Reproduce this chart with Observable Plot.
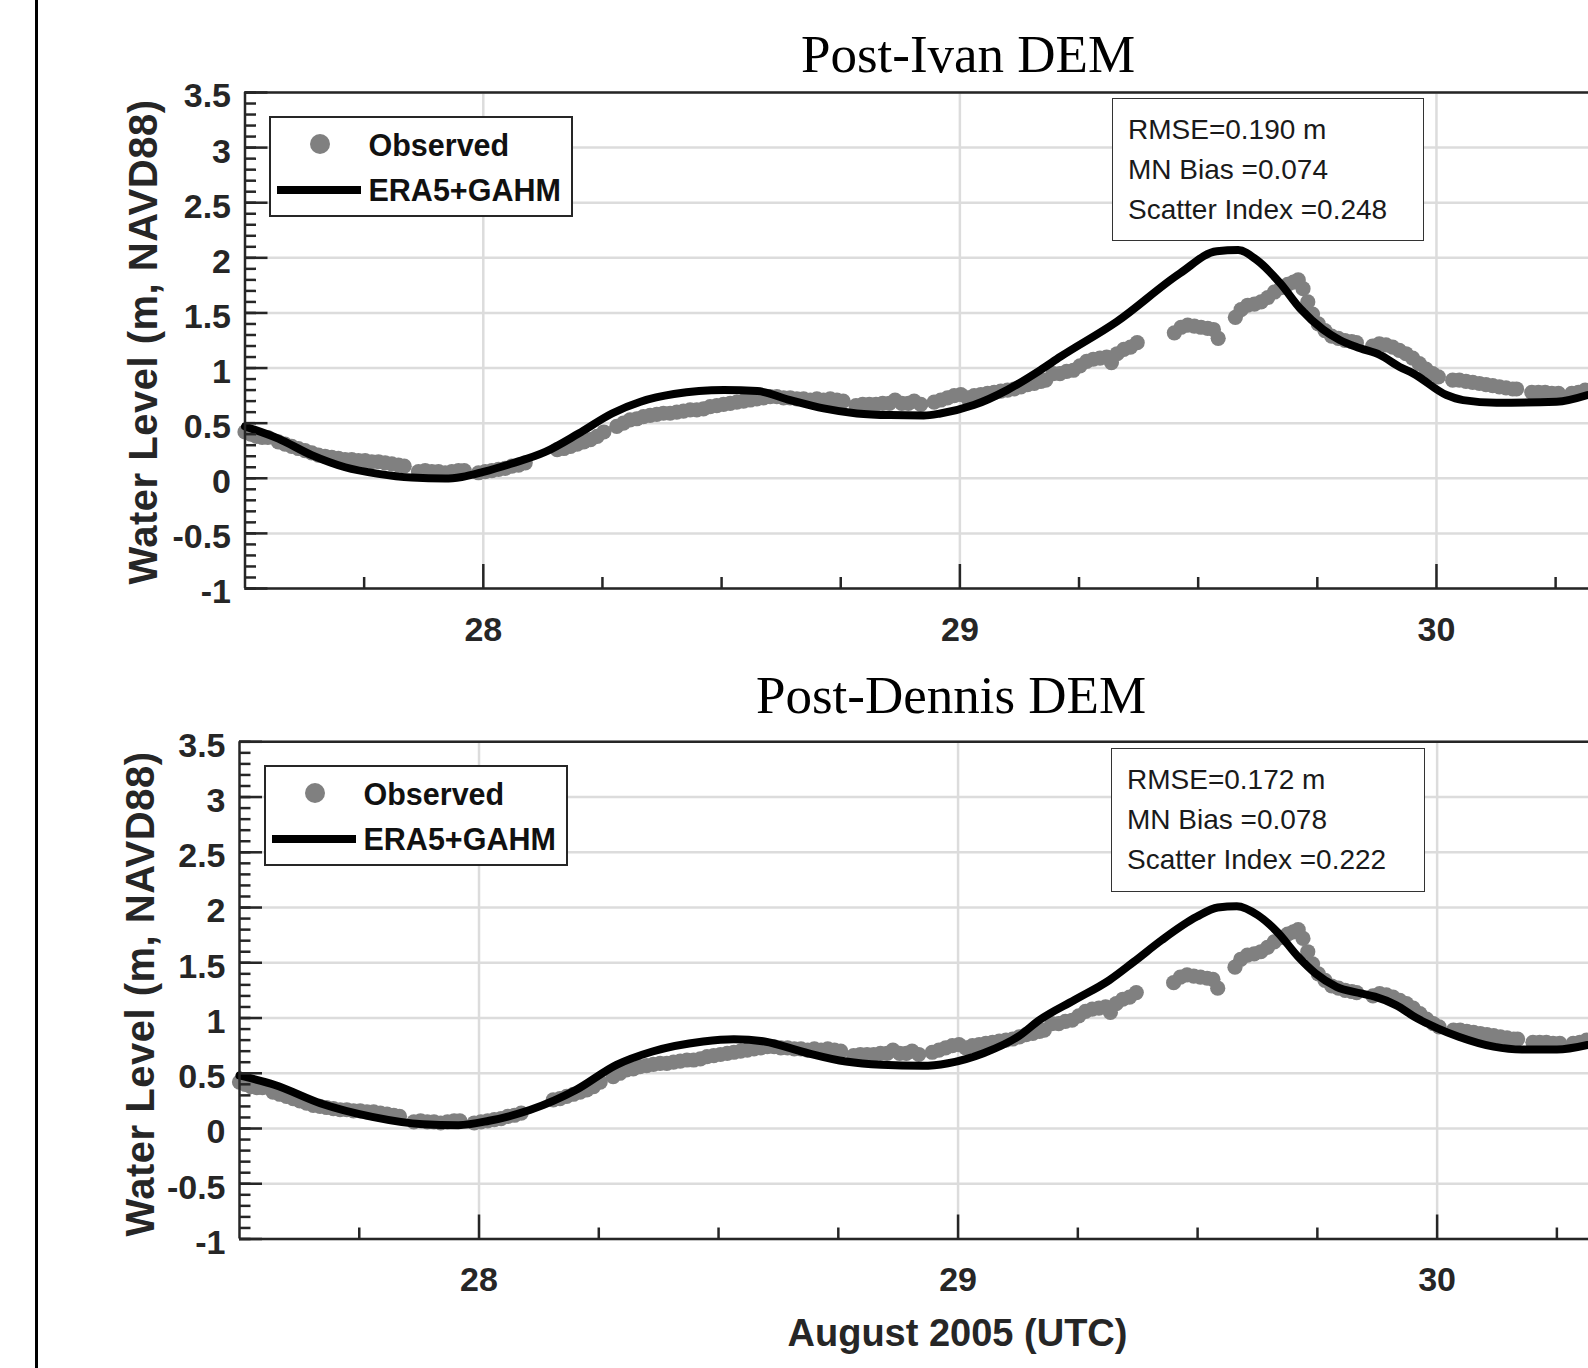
<!DOCTYPE html>
<html>
<head>
<meta charset="utf-8">
<script src="https://cdn.jsdelivr.net/npm/d3@7"></script>
<script src="https://cdn.jsdelivr.net/npm/@observablehq/plot@0.6"></script>
<style>
  body { margin: 0; background: #fff; }
  #fig { position: relative; width: 1588px; height: 1368px; overflow: hidden; background: #fff;
         font-family: "Liberation Sans", Arial, sans-serif; color: #262626; }
  #fig svg { position: absolute; left: 0; overflow: visible; }
  .frameline { position: absolute; left: 35px; top: 0; width: 3px; height: 1368px; background: #000; z-index: 5; }
  .title { position: absolute; font-family: "Liberation Serif", serif; font-size: 53px; color: #000;
           transform: translate(-50%, -50%); white-space: nowrap; z-index: 5; }
  .ylab { position: absolute; font-weight: bold; font-size: 40px; letter-spacing: 0.5px; white-space: nowrap;
          transform: translate(-50%, -50%) rotate(-90deg); z-index: 5; }
  .xlab { position: absolute; font-weight: bold; font-size: 38px; white-space: nowrap;
          transform: translate(-50%, -50%); z-index: 5; }
  .legend { position: absolute; box-sizing: border-box; border: 2px solid #262626; background: #fff; z-index: 5; }
  .legend .ldot { position: absolute; width: 20px; height: 20px; border-radius: 50%; background: #808080; }
  .legend .lline { position: absolute; height: 8px; background: #000; }
  .legend .ltext { position: absolute; font-weight: bold; font-size: 30.5px; line-height: 1; transform: translateY(-50%); white-space: nowrap; color: #111; }
  .stats { position: absolute; box-sizing: border-box; border: 1.5px solid #333; background: #fff; z-index: 5; }
  .stats div { position: absolute; left: 15px; font-size: 28px; line-height: 1; transform: translateY(-50%); white-space: nowrap; color: #1a1a1a; }
</style>
</head>
<body>
<div id="fig">
  <div class="frameline"></div>
</div>
<script>
// ---------------- data ----------------
// Observed water level (day of August 2005, m NAVD88) – same gauge in both panels
const observed = [
  [27.500,0.42],[27.512,0.40],[27.524,0.38],[27.536,0.37],[27.548,0.37],
  [27.570,0.33],[27.584,0.31],[27.598,0.29],[27.612,0.27],[27.626,0.25],[27.640,0.23],[27.654,0.21],
  [27.668,0.20],[27.682,0.19],[27.696,0.18],[27.710,0.17],[27.724,0.17],[27.738,0.16],[27.752,0.16],
  [27.766,0.15],[27.780,0.15],[27.794,0.14],[27.808,0.13],[27.822,0.12],[27.834,0.11],
  [27.864,0.06],[27.878,0.07],[27.892,0.06],[27.906,0.06],[27.920,0.05],[27.934,0.06],[27.948,0.07],[27.960,0.07],
  [27.990,0.05],[28.004,0.06],[28.018,0.07],[28.032,0.08],[28.046,0.09],[28.060,0.11],[28.074,0.12],[28.088,0.14],
  [28.155,0.26],[28.169,0.27],[28.183,0.29],[28.197,0.31],[28.211,0.33],[28.225,0.35],[28.239,0.38],[28.253,0.42],
  [28.280,0.47],[28.294,0.50],[28.308,0.53],[28.322,0.54],[28.336,0.56],[28.350,0.57],[28.364,0.58],[28.378,0.59],
  [28.392,0.59],[28.406,0.60],[28.420,0.61],[28.434,0.62],[28.448,0.62],[28.462,0.63],[28.476,0.65],[28.490,0.66],
  [28.504,0.67],[28.518,0.68],[28.532,0.69],[28.546,0.70],[28.560,0.71],[28.574,0.72],[28.588,0.73],[28.602,0.74],
  [28.616,0.74],[28.630,0.73],[28.644,0.73],[28.658,0.72],[28.672,0.72],[28.686,0.71],[28.700,0.72],[28.714,0.71],
  [28.728,0.72],[28.742,0.71],[28.755,0.70],
  [28.782,0.66],[28.796,0.67],[28.810,0.67],[28.824,0.67],[28.838,0.68],[28.852,0.68],[28.864,0.71],[28.878,0.68],
  [28.892,0.68],[28.904,0.70],[28.918,0.67],
  [28.946,0.69],[28.960,0.71],[28.974,0.73],[28.988,0.75],[29.002,0.76],[29.016,0.73],[29.030,0.75],[29.044,0.76],
  [29.058,0.77],[29.072,0.78],[29.086,0.79],[29.100,0.80],[29.114,0.81],[29.128,0.83],[29.142,0.85],[29.156,0.86],
  [29.170,0.88],[29.180,0.89],
  [29.196,0.95],[29.210,0.95],[29.224,0.97],[29.238,0.98],[29.252,1.02],[29.266,1.06],[29.280,1.08],[29.294,1.09],
  [29.308,1.10],[29.318,1.05],[29.330,1.13],[29.344,1.17],[29.358,1.19],[29.372,1.23],
  [29.450,1.32],[29.464,1.37],[29.478,1.39],[29.492,1.38],[29.506,1.37],[29.520,1.36],[29.532,1.35],[29.542,1.27],
  [29.578,1.46],[29.590,1.53],[29.604,1.57],[29.618,1.58],[29.632,1.60],[29.646,1.64],[29.660,1.69],[29.674,1.73],
  [29.688,1.76],[29.700,1.78],[29.710,1.80],[29.720,1.72],[29.730,1.60],[29.740,1.49],[29.752,1.40],[29.766,1.34],
  [29.780,1.29],[29.794,1.27],[29.808,1.25],[29.822,1.24],[29.832,1.23],
  [29.866,1.20],[29.880,1.22],[29.894,1.21],[29.908,1.19],[29.922,1.16],[29.936,1.13],[29.950,1.09],[29.964,1.04],
  [29.978,0.99],[29.992,0.95],[30.004,0.92],
  [30.034,0.89],[30.048,0.89],[30.062,0.88],[30.076,0.87],[30.090,0.86],[30.104,0.85],[30.118,0.84],[30.132,0.83],
  [30.146,0.82],[30.160,0.81],[30.168,0.81],
  [30.200,0.78],[30.214,0.78],[30.228,0.78],[30.242,0.77],[30.256,0.77],
  [30.284,0.77],[30.298,0.78],[30.312,0.80]
];

// ERA5+GAHM modelled water level, Post-Ivan DEM
const modelIvan = [
  [27.50,0.47],[27.57,0.36],[27.64,0.21],[27.71,0.10],[27.78,0.04],[27.85,0.006],[27.92,-0.003],[27.955,0.012],
  [28.00,0.058],[28.06,0.134],[28.13,0.239],[28.20,0.406],[28.27,0.588],[28.33,0.694],[28.40,0.764],[28.505,0.800],
  [28.575,0.791],[28.644,0.709],[28.714,0.634],[28.784,0.588],[28.854,0.573],[28.924,0.570],[28.959,0.588],
  [29.029,0.664],[29.099,0.800],[29.169,0.982],[29.211,1.103],[29.329,1.42],[29.462,1.86],[29.539,2.06],
  [29.584,2.07],[29.623,1.98],[29.672,1.77],[29.714,1.54],[29.762,1.35],[29.797,1.255],[29.840,1.18],
  [29.881,1.12],[29.923,1.01],[29.951,0.952],[30.021,0.755],[30.056,0.709],[30.126,0.685],[30.252,0.694],[30.317,0.755]
];

// ERA5+GAHM modelled water level, Post-Dennis DEM
const modelDennis = [
  [27.50,0.48],[27.574,0.394],[27.670,0.227],[27.777,0.106],[27.883,0.039],[27.957,0.030],[28.021,0.07],
  [28.106,0.167],[28.202,0.348],[28.287,0.576],[28.362,0.697],[28.468,0.788],[28.532,0.809],[28.596,0.788],
  [28.681,0.688],[28.766,0.606],[28.840,0.576],[28.926,0.567],[28.979,0.591],[29.053,0.682],[29.128,0.84],
  [29.170,0.982],[29.243,1.163],[29.316,1.343],[29.367,1.509],[29.425,1.705],[29.498,1.916],[29.542,2.00],
  [29.582,2.012],[29.626,1.93],[29.666,1.78],[29.710,1.554],[29.746,1.404],[29.790,1.283],[29.841,1.223],
  [29.870,1.193],[29.914,1.117],[29.958,0.997],[30.001,0.907],[30.045,0.831],[30.118,0.741],[30.177,0.715],
  [30.250,0.715],[30.314,0.756]
];

const panelTitles = ["Post-Ivan DEM", "Post-Dennis DEM"];
const statsIvan = ["RMSE=0.190 m", "MN Bias =0.074", "Scatter Index =0.248"];
const statsDennis = ["RMSE=0.172 m", "MN Bias =0.078", "Scatter Index =0.222"];
const legendLabels = ["Observed", "ERA5+GAHM"];
const yLabel = "Water Level (m, NAVD88)";
const xLabel = "August 2005 (UTC)";

const yMajor = [-1, -0.5, 0, 0.5, 1, 1.5, 2, 2.5, 3, 3.5];
const yMinor = d3.range(-10, 36).map(i => i / 10);
const xMajor = [28, 29, 30];
const xMinor = [27.75, 28.25, 28.5, 28.75, 29.25, 29.5, 29.75, 30.25];

// ---------------- drawing ----------------
const gridColor = "#dcdcdc";
const axisColor = "#262626";

function panel(model, o) {
  return Plot.plot({
    width: 1588,
    height: o.height,
    marginLeft: o.left, marginRight: 0, marginTop: o.top, marginBottom: o.bottom,
    x: {domain: [27.5, o.xmax], axis: null},
    y: {domain: [-1, 3.5], axis: null},
    style: {fontFamily: "Liberation Sans, Arial, sans-serif", fontSize: "34px", fontWeight: "bold",
            color: axisColor, background: "transparent", overflow: "visible"},
    marks: [
      Plot.ruleX(xMajor, {stroke: gridColor, strokeWidth: 2.5}),
      Plot.ruleY(yMajor, {stroke: gridColor, strokeWidth: 2.5}),
      Plot.dot(observed, {x: d => d[0], y: d => d[1], r: 7.6, fill: "#808080", stroke: "none"}),
      Plot.line(model, {x: d => d[0], y: d => d[1], stroke: "#000", strokeWidth: 8, curve: "monotone-x"}),
      Plot.ruleY([-1, 3.5], {stroke: axisColor, strokeWidth: 2.5}),
      Plot.ruleX([27.5], {stroke: axisColor, strokeWidth: 2.5}),
      Plot.axisY({ticks: yMinor, tickSize: -11.5, fill: "none", label: null, stroke: axisColor, strokeWidth: 2.5}),
      Plot.axisY({ticks: yMajor, tickSize: -23, fill: "none", label: null, stroke: axisColor, strokeWidth: 2.5}),
      Plot.axisY({ticks: yMajor, tickSize: 0, tickPadding: 14, dy: 4, tickFormat: d => String(d), label: null,
                  fontSize: 34, fontWeight: "bold", fill: axisColor}),
      Plot.axisX({ticks: xMinor, tickSize: -11, fill: "none", label: null, stroke: axisColor, strokeWidth: 2.5}),
      Plot.axisX({ticks: xMajor, tickSize: -24, fill: "none", label: null, stroke: axisColor, strokeWidth: 2.5}),
      Plot.axisX({ticks: xMajor, tickSize: 0, tickPadding: 28, tickFormat: d => String(d), label: null,
                  fontSize: 34, fontWeight: "bold", fill: axisColor})
    ]
  });
}

const fig = document.getElementById("fig");

const p1 = panel(modelIvan, {height: 660, left: 244.5, top: 92, bottom: 72, xmax: 30.319});
p1.style.top = "0px";
fig.appendChild(p1);

const p2 = panel(modelDennis, {height: 718, left: 239, top: 91.3, bottom: 129.5, xmax: 30.316});
p2.style.top = "650px";
fig.appendChild(p2);

function addDiv(cls, text, css) {
  const d = document.createElement("div");
  d.className = cls;
  if (text != null) d.textContent = text;
  Object.assign(d.style, css);
  fig.appendChild(d);
  return d;
}

// titles
addDiv("title", panelTitles[0], {left: "968px", top: "53.5px"});
addDiv("title", panelTitles[1], {left: "951px", top: "694.5px"});

// y labels
addDiv("ylab", yLabel, {left: "142.5px", top: "342px"});
addDiv("ylab", yLabel, {left: "139.5px", top: "993.5px"});

// x label
addDiv("xlab", xLabel, {left: "957.5px", top: "1333px"});

// legends
function legend(left, top) {
  const box = addDiv("legend", null, {left: left + "px", top: top + "px", width: "304px", height: "101px"});
  const dot = document.createElement("span"); dot.className = "ldot";
  Object.assign(dot.style, {left: "39.5px", top: "16.5px"}); box.appendChild(dot);
  const t1 = document.createElement("span"); t1.className = "ltext"; t1.textContent = legendLabels[0];
  Object.assign(t1.style, {left: "98px", top: "27px"}); box.appendChild(t1);
  const ln = document.createElement("span"); ln.className = "lline";
  Object.assign(ln.style, {left: "6px", top: "68px", width: "84px"}); box.appendChild(ln);
  const t2 = document.createElement("span"); t2.className = "ltext"; t2.textContent = legendLabels[1];
  Object.assign(t2.style, {left: "98px", top: "72px"}); box.appendChild(t2);
}
legend(268.5, 115.5);
legend(263.5, 764.5);

// stats boxes
function stats(left, top, w, h, lines, ys) {
  const box = addDiv("stats", null, {left: left + "px", top: top + "px", width: w + "px", height: h + "px"});
  lines.forEach((s, i) => {
    const d = document.createElement("div");
    d.textContent = s;
    d.style.top = ys[i] + "px";
    box.appendChild(d);
  });
}
stats(1112, 98, 312, 143, statsIvan, [31, 71, 110.5]);
stats(1111, 747.5, 314, 144, statsDennis, [31, 71.5, 111]);
</script>
</body>
</html>
